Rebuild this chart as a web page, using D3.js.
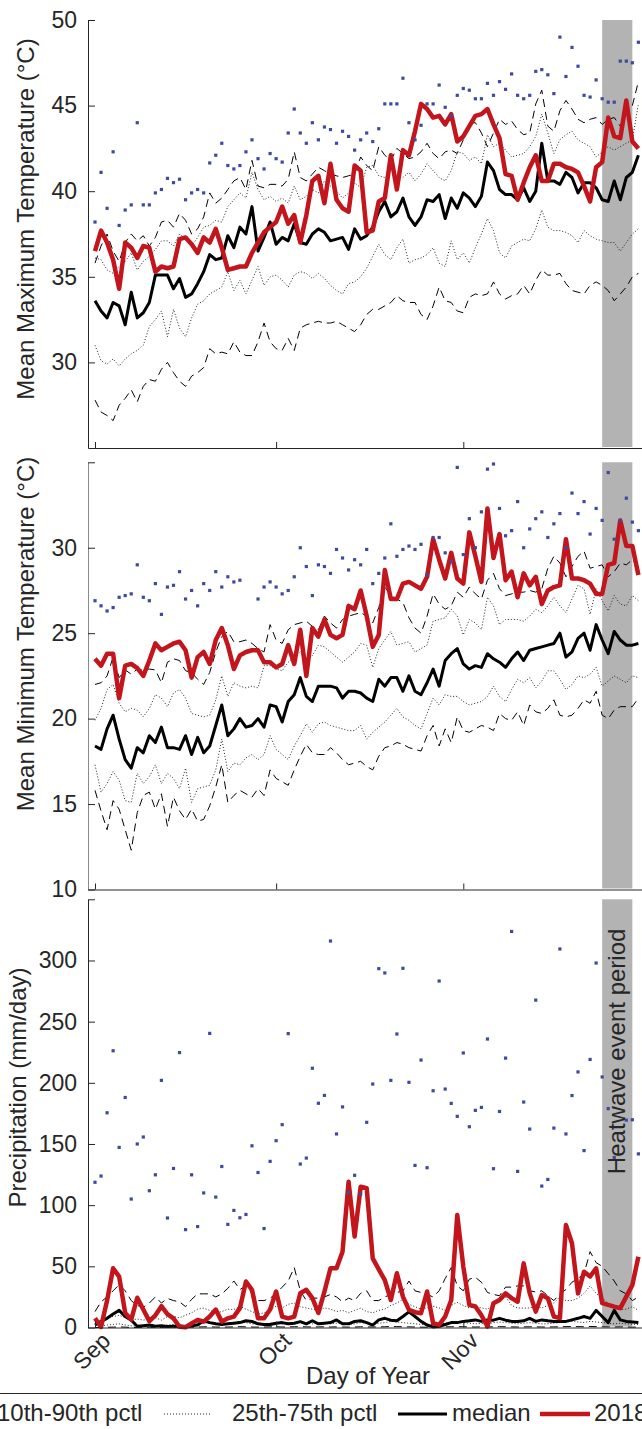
<!DOCTYPE html>
<html><head><meta charset="utf-8">
<script src="https://cdn.jsdelivr.net/npm/d3@7"></script>
<style>
body{margin:0;background:#fff}
svg{display:block}
text{font-family:"Liberation Sans",Arial,Helvetica,sans-serif;fill:#262626}
</style>
</head><body>
<svg id="chart" width="642" height="1429"></svg>
<script>
// ---------------- DATA ----------------
const firstDay = "2018-09-01";
const monthStarts = ["2018-09-01","2018-10-01","2018-11-01"];
const monthLabels = ["Sep","Oct","Nov"];
const heatwave = ["2018-11-24","2018-11-29"];
const heatwaveLabel = "Heatwave event period";
const legendLabels = ["10th-90th pctl","25th-75th pctl","median","2018"];
const xTitle = "Day of Year";

const maxTTicks = [30,35,40,45,50];
const minTTicks = [10,15,20,25,30];
const precTicks = [0,50,100,150,200,250,300];

// Mean maximum temperature
const maxT_2018 = [36.5,37.7,37.0,36.0,34.3,37.0,36.7,36.1,36.8,36.7,
35.3,35.6,35.5,35.6,37.2,37.3,36.9,36.4,37.3,37.0,
37.8,36.7,35.4,35.5,35.6,35.6,36.4,37.0,37.6,37.9,
38.2,39.1,38.1,38.6,37.0,38.6,40.6,40.9,39.3,41.6,
39.5,39.0,38.8,41.5,41.2,37.6,37.7,39.4,39.6,42.1,
40.1,42.4,42.1,43.5,45.1,44.8,44.3,44.4,43.9,44.5,
42.9,43.2,43.8,44.4,44.5,44.8,43.9,43.1,41.0,40.9,
39.5,40.5,41.4,42.1,40.6,40.6,41.6,41.6,41.4,41.3,
41.1,40.3,39.4,41.4,41.7,44.3,43.2,43.1,45.3,42.9,
42.5];
const maxT_med = [33.6,33.0,32.6,33.5,33.3,32.2,34.1,32.6,32.9,33.5,
35.1,35.1,35.1,34.3,34.9,33.8,34.0,34.6,35.3,36.3,
36.0,36.1,37.4,36.7,37.9,37.5,39.1,36.5,37.3,38.2,
36.9,37.3,37.1,38.1,37.0,36.9,37.5,37.8,37.6,37.1,
37.2,37.3,36.6,37.8,37.2,37.4,37.9,38.8,39.4,38.5,
38.8,39.6,38.5,38.0,38.5,39.5,39.4,39.8,38.4,39.6,
39.0,39.9,39.6,39.1,39.7,41.7,41.2,40.1,39.8,39.8,
39.5,40.2,39.4,40.0,42.8,40.6,40.6,40.4,41.1,40.8,
39.9,40.5,40.5,40.2,39.5,39.4,40.6,39.5,40.8,41.1,
42.1];
const maxT_p90 = [35.8,36.8,37.5,36.5,35.9,37.0,37.5,37.1,37.4,36.8,
37.3,38.2,38.3,37.9,38.7,38.3,37.5,37.8,38.5,39.9,
39.3,39.6,40.1,40.6,40.8,40.1,41.8,40.3,40.2,40.4,
40.4,40.3,40.7,42.3,40.8,40.6,41.0,41.4,41.2,41.0,
40.9,40.8,40.9,41.0,42.0,41.5,41.2,42.6,42.1,41.8,
42.5,42.2,41.9,42.0,42.3,42.8,42.2,41.9,42.3,42.4,
42.2,43.0,44.0,44.0,43.4,42.6,43.4,44.2,43.9,44.1,
43.6,43.3,43.4,45.1,45.9,43.8,43.5,44.7,45.3,44.8,
44.2,44.0,44.2,44.3,43.9,44.2,44.3,43.8,44.6,45.0,
46.4];
const maxT_p75 = [36.1,36.0,35.4,35.2,35.6,35.9,36.4,35.4,35.9,36.2,
36.6,37.1,37.1,36.8,37.5,37.2,36.8,37.3,37.9,38.0,
38.3,38.2,39.1,39.5,39.9,39.6,41.1,40.1,39.5,39.7,
39.4,39.6,39.3,40.3,39.5,39.7,40.1,39.9,40.6,40.3,
40.0,39.6,39.9,40.5,40.2,41.4,41.5,40.9,40.8,41.2,
41.0,40.8,41.1,40.6,41.0,41.6,41.2,40.8,40.6,41.2,
42.3,42.2,41.8,42.0,41.6,43.3,42.6,42.8,42.4,42.0,
42.1,42.2,42.6,43.2,44.5,43.4,42.2,43.0,43.3,43.5,
43.0,42.8,42.6,42.0,42.3,42.6,42.4,42.6,42.8,43.0,
45.1];
const maxT_p25 = [31.0,30.1,29.9,30.2,29.8,30.2,30.5,30.7,31.0,32.1,
32.5,33.0,31.5,33.1,32.0,31.5,32.6,33.4,33.6,34.0,
34.2,34.4,35.3,34.2,34.8,34.0,34.8,35.6,34.5,35.0,
35.1,34.8,34.4,35.1,35.3,35.2,34.9,35.2,34.9,34.5,
34.2,34.0,34.6,34.7,35.0,35.5,36.2,36.9,36.3,36.0,
36.7,37.2,35.8,36.0,36.1,36.3,36.7,35.8,35.6,37.1,
36.0,36.4,35.8,36.7,37.5,38.4,37.7,36.4,36.1,36.8,
37.0,37.2,37.1,37.8,38.9,37.9,37.7,37.7,37.6,37.4,
37.0,37.7,37.4,37.2,37.1,37.0,37.0,36.5,37.0,37.5,
37.8];
const maxT_p10 = [27.8,27.1,26.9,26.6,27.5,27.9,28.4,27.7,28.6,29.0,
28.9,29.6,30.0,29.4,28.9,28.6,29.2,29.4,29.7,30.8,
30.5,30.6,30.5,31.2,30.6,30.4,30.4,31.2,32.3,31.2,
30.8,30.7,31.4,30.7,32.0,32.2,32.3,32.4,32.3,32.3,
32.4,32.2,32.0,31.8,32.2,32.8,33.1,33.1,33.3,33.5,
33.9,33.6,33.5,33.5,32.8,32.5,33.3,34.4,33.6,33.5,
33.0,32.9,33.8,34.0,33.9,34.0,34.7,34.0,33.7,33.9,
34.0,34.5,34.0,34.8,35.4,35.1,35.1,35.2,34.6,34.2,
34.1,34.0,34.5,34.7,34.5,34.2,33.6,34.0,34.4,35.0,
35.2];
const maxT_max = [38.2,41.1,39.0,42.3,38.0,38.9,39.2,44.0,39.2,39.2,
39.9,40.1,40.75,40.5,40.7,39.5,39.9,40.1,39.9,41.65,
42.1,42.8,41.5,41.3,41.5,42.3,43.0,41.9,41.3,42.2,
41.9,41.7,43.4,44.8,43.4,42.8,44.0,43.0,43.75,43.6,
42.8,43.5,43.2,42.4,43.0,43.4,42.9,43.65,45.1,45.1,
45.1,46.6,44.0,43.0,43.85,45.1,45.1,46.2,44.9,44.4,
45.6,46.0,45.9,45.4,45.4,46.3,45.6,46.4,45.95,46.85,
45.6,45.4,45.6,47.0,47.1,46.8,45.7,49.0,46.7,48.4,
47.3,45.6,45.5,46.5,45.4,45.2,45.2,47.6,47.6,47.5,
48.7];

// Mean minimum temperature
const minT_2018 = [23.5,23.1,23.8,23.8,21.2,23.1,23.2,22.95,22.5,23.4,
24.4,24.0,24.2,24.4,24.5,24.0,22.4,23.6,23.9,23.2,
24.6,25.3,24.3,22.9,23.7,23.9,24.0,24.0,23.3,23.3,
23.0,23.2,24.3,23.2,25.2,22.5,25.3,24.8,25.8,24.9,
24.7,24.9,26.6,26.4,27.5,26.0,24.2,24.9,28.7,27.0,
27.0,27.9,28.0,27.8,27.6,28.3,30.5,29.3,28.2,29.7,
28.2,27.9,30.9,29.5,28.0,32.3,29.4,30.8,28.1,28.6,
27.1,28.5,27.8,28.3,26.7,27.5,27.7,27.8,30.5,28.2,
28.2,28.1,27.9,27.3,27.3,29.0,29.1,31.6,30.1,30.1,
28.4];
const minT_med = [18.4,18.2,19.4,20.2,18.8,17.6,17.1,18.3,18.0,19.0,
18.6,19.5,18.3,18.3,18.2,19.0,17.9,18.9,18.0,18.4,
19.6,20.8,19.0,19.4,20.0,19.5,19.6,20.0,19.5,20.8,
20.7,19.8,21.0,21.4,22.4,21.3,21.0,21.9,21.9,21.9,
21.8,21.2,21.6,21.6,21.5,21.2,21.0,22.3,21.9,22.4,
22.4,21.6,22.5,21.6,21.4,22.1,22.9,21.9,23.4,23.8,
24.1,23.2,22.9,23.1,23.0,23.8,23.5,23.3,23.0,23.5,
23.9,23.4,24.0,24.1,24.2,24.3,24.4,25.0,23.6,23.9,
24.7,25.0,24.0,25.5,24.6,23.8,25.1,24.6,24.3,24.3,
24.4];
const minT_p90 = [22.0,22.1,22.5,23.6,22.4,22.85,22.6,22.9,22.85,22.9,
22.85,22.1,23.3,23.5,23.4,22.8,22.7,22.3,22.0,22.7,
23.9,24.8,25.1,24.5,24.5,24.6,24.4,24.1,23.9,25.5,
24.6,24.4,25.2,25.5,25.6,25.7,25.4,25.2,26.0,25.6,
25.3,25.8,26.0,26.1,26.2,26.0,25.6,26.5,27.7,27.2,
27.0,26.8,25.9,25.3,25.0,26.0,27.3,26.7,26.4,26.6,
27.4,27.1,27.7,27.3,27.0,28.1,28.5,27.6,27.2,27.3,
27.4,27.4,27.5,27.4,27.6,28.8,29.5,29.1,28.3,28.9,
29.5,29.8,28.8,28.9,29.0,28.3,28.6,29.1,29.0,29.3,
28.9];
const minT_p75 = [19.9,20.6,21.7,22.0,20.9,20.4,20.6,20.5,20.1,20.6,
21.4,21.2,20.7,21.5,21.7,21.2,20.3,20.2,20.1,20.2,
21.1,22.5,21.3,22.1,21.9,21.8,21.9,21.8,23.1,23.1,
22.9,22.8,23.3,23.6,23.9,23.3,23.7,24.3,24.2,23.9,
23.6,23.3,23.6,23.9,24.4,24.3,23.0,24.1,24.6,25.1,
24.3,24.4,24.5,23.9,24.1,24.3,25.7,25.8,25.9,26.4,
26.0,24.9,25.8,25.6,25.2,27.1,26.6,25.5,25.8,25.8,
25.8,25.7,26.0,26.4,26.2,26.6,27.1,26.6,26.2,27.0,
27.8,27.6,26.1,27.6,26.9,26.3,27.2,26.7,26.6,27.2,
26.9];
const minT_p25 = [17.3,15.7,16.2,16.9,16.4,15.2,15.1,16.8,16.2,16.6,
17.3,16.2,16.8,16.5,15.9,17.1,15.1,15.9,16.0,16.1,
17.0,18.8,16.9,17.4,17.3,17.7,17.9,17.6,17.9,19.0,
18.2,17.9,17.6,18.4,19.0,19.7,19.2,19.7,19.8,19.6,
19.5,19.4,19.3,19.3,19.6,18.8,19.2,19.5,19.8,20.2,
20.6,20.1,19.9,19.6,19.4,20.3,21.2,20.8,21.4,21.3,
21.3,21.0,20.8,20.9,21.0,21.3,21.9,21.3,21.0,21.7,
22.3,22.1,22.4,21.8,22.2,22.8,22.8,22.3,21.7,22.0,
22.5,22.4,22.6,23.0,21.9,22.2,22.5,22.3,22.1,22.5,
22.4];
const minT_p10 = [15.8,14.6,13.5,15.2,14.7,13.5,12.3,14.5,15.5,15.7,
14.7,15.6,13.7,15.4,14.6,14.1,14.7,14.0,14.1,14.9,
16.0,17.3,15.1,15.5,15.8,15.6,15.4,15.9,15.5,17.0,
16.5,16.3,16.1,17.0,17.8,18.5,18.0,17.9,17.9,18.3,
18.0,17.6,17.3,17.4,17.5,17.2,17.0,17.8,18.3,18.4,
18.6,18.5,18.3,18.2,18.1,19.0,19.6,18.4,19.4,18.6,
20.1,19.3,19.2,19.4,19.6,19.5,19.3,20.3,20.0,19.9,
20.4,19.6,20.8,20.4,20.3,20.6,21.1,20.2,20.1,20.2,
20.6,21.1,20.9,21.6,20.2,20.0,20.5,20.7,20.7,20.7,
21.2];
const minT_max = [26.9,26.6,26.3,26.5,27.1,27.2,27.3,29.0,27.1,26.9,
27.9,26.1,27.7,27.8,28.6,27.0,27.5,26.6,27.9,27.5,
28.6,27.7,28.3,28.0,28.1,null,null,27.0,27.7,28.0,
27.7,27.3,27.5,28.3,30.0,28.9,27.2,29.0,28.9,28.5,
29.9,29.4,28.7,29.3,29.0,29.9,27.9,28.5,29.4,31.4,
29.5,29.9,30.1,29.9,30.2,28.4,30.6,30.6,29.7,29.2,
34.7,29.6,31.7,30.0,32.1,34.6,34.9,32.3,30.7,31.0,
32.7,30.0,31.1,31.7,32.1,30.6,31.4,32.0,30.0,33.2,
32.0,32.7,30.8,32.3,31.6,34.4,30.5,31.6,32.9,31.5,
31.0];

// Precipitation
const prec_2018 = [7.5,0.5,22,48.4,41.6,11.9,6.5,24.3,14.7,5.2,
10,17.4,11,7.5,0.6,0.2,3.4,6.2,4.8,9,
14.7,4.8,7.5,8.9,15.8,37.6,30.8,7.5,7.5,14.7,
29.4,8.9,7.5,8.9,28.0,30.8,24.0,11.9,29.4,48.4,
48.4,62,119.2,74.3,115,113.8,56.5,47.5,38.8,22.5,
44.3,25.2,14.4,12.5,11.7,29.4,3.5,2.2,9.0,22.5,
92.0,49.8,18.5,17.2,10,0.8,19.9,22.5,27.9,24,
21.1,52.4,27.9,13.0,26.6,24.0,9.0,7.6,83.8,68.8,
27.9,45.6,41.7,48.4,19.9,18.5,17.0,15.8,25.2,34.8,
57.9];
const prec_med = [2,5,7.5,11,14,9,6,1,1.5,2,
1,1.5,0.8,1,1.2,0.8,1.5,2,5.5,4,
3,2.5,3,3.5,4,5.5,5,3,2.5,2.5,
3.5,4,3,3.5,4.8,3,5.5,3,3.5,4,
6.2,3,3,5,5.5,4,2,6.2,7.5,6,
5.5,9,12.8,9,5,2,0.5,1,2.5,4,
4,5,5.5,6.2,5,6.2,6,7.5,6,5,
5,5.5,7.5,5,6.2,5.5,5,5,5,6.2,
7.5,9,7.5,14,9,4,14,6.2,5,4.5,
4];
const prec_p90 = [13,21,25,30,35,30,22,18,16.6,20,
25,20,23.8,22,21,17,23,27.5,27.5,27.5,
25,27.5,32,38,31,34,28,22,22,24,
27.5,33,38,49,30,22,24,24,25,27,
25,21,24,22,28,30,22,22,25,27,
28.6,30,38,30,28.6,27,25,30,40,49,
34,30,39.5,41,37,28.6,27,26,33,33,
34,34,30,29,30,26,22,27.5,31,37,
40,44,62,53,50,44,38,30,27.5,22,
25];
const prec_p75 = [4,6,8,9,10,8,6,7,6,7,
8,6,9,9,8,10,12,15,15.8,14,
12,13,15,14.7,17.4,15,13,11,12,14,
17.4,16,19,20,17,16,15,14,16,15,
13,14,12,14,15.8,13,12,14,15,18,
20,23,19,17,15,16,17.4,16,14,18,
20.5,18,16,17,16,15,18,22,25,18,
16,15.8,16,17.4,16,18,20,25,22,22,
24,28,34,27.9,24,20,16,14.7,15,17,
14];
const prec_p25 = [1,1.5,2,2.5,3,2,1.5,1,1.5,2,
1.5,1,2,2.5,2,1.5,2,3,4,3.5,
3,2.5,3,4,5,4,3,2.5,3,3.5,
4,3,3.5,4,4.5,3.5,3,3.5,4,3,
3.5,3,2.5,3,4,3.5,3,3.5,4,5,
4.5,4,3.5,3,2.5,2,2.5,3,3.5,4,
4.5,4,3.5,3,3.5,3,4,4.5,4,3.5,
3,3.5,4,3.5,3,3,3.5,4,4.5,5,
4.5,4,5,4.5,4,3.5,3,3.5,3,2.5,
2.5];
const prec_p10 = [0,0,0.2,0.3,0.5,0.3,0,0,0,0.2,
0,0,0.2,0.3,0.2,0,0.2,0.4,0.6,0.5,
0.4,0.3,0.4,0.5,0.7,0.5,0.4,0.3,0.4,0.5,
0.6,0.4,0.5,0.6,0.7,0.5,0.4,0.5,0.6,0.4,
0.5,0.4,0.3,0.4,0.6,0.5,0.4,0.5,0.6,0.8,
0.7,0.6,0.5,0.4,0.3,0.2,0.3,0.4,0.5,0.6,
0.7,0.6,0.5,0.4,0.5,0.4,0.6,0.7,0.6,0.5,
0.4,0.5,0.6,0.5,0.4,0.4,0.5,0.6,0.7,0.8,
0.7,0.6,0.8,0.7,0.6,0.5,0.4,0.5,0.4,0.3,
0.3];
const prec_max = [118.7,123.8,175.5,226.2,147.2,188,105,150,155.7,111.8,
124.8,202,89.5,130,224.7,80,124.8,82.5,110,240.4,
106.6,131.6,84.3,95.7,89.7,92.4,148.5,126.7,80.9,135.8,
152.7,165.8,240.2,null,133.6,138.5,211.9,183.3,189.7,315.9,
158.2,180.3,110.2,124.4,109,167.7,199,293.3,289.8,202,
239.9,293.6,200.4,132.5,218.6,130.6,193.5,283.2,194.9,183.2,
172.6,224.4,164.1,177.5,179.9,235.8,129.8,176.6,220.2,323.7,
127.6,184.3,162.2,267.6,115.6,121,163,309.4,158.2,189.6,
208.9,144.6,219.1,297.9,204.8,178.9,139,219.9,169.5,169.8,
141.9];

// ---------------- CHART ----------------
const svg = d3.select("#chart");
const INK = "#262626";
const RED = "#c3151c";
const BLUE = "#3f4a9e";
const parse = d3.utcParse("%Y-%m-%d");
const t0 = parse(firstDay);
const dates = maxT_med.map((_, i) => d3.utcDay.offset(t0, i));
const mDates = monthStarts.map(parse);

const xa = d3.scaleUtc().domain([mDates[0], mDates[2]]).range([95, 463.3]);
const x = d3.scaleUtc().domain([xa.invert(88), xa.invert(660)]).range([88, 660]);

const panels = [
  {top:20, bottom:448, domain:[25,50], ticks:maxTTicks, topTick:false,
   title:"Mean Maximum Temperature (°C)", tx:33.5, ty:219, axisColor:INK,
   s:{p10:maxT_p10,p25:maxT_p25,med:maxT_med,p75:maxT_p75,p90:maxT_p90,y18:maxT_2018,mx:maxT_max}},
  {top:462.3, bottom:889.5, domain:[10,35], ticks:minTTicks, topTick:true,
   title:"Mean Minimum Temperature (°C)", tx:33.5, ty:634, axisColor:"#8a8a8a",
   s:{p10:minT_p10,p25:minT_p25,med:minT_med,p75:minT_p75,p90:minT_p90,y18:minT_2018,mx:minT_max}},
  {top:899.3, bottom:1327.5, domain:[0,350], ticks:precTicks, topTick:true,
   title:"Precipitation (mm/day)", tx:26, ty:1087.5, axisColor:INK, xlabels:true, hwLabel:true,
   s:{p10:prec_p10,p25:prec_p25,med:prec_med,p75:prec_p75,p90:prec_p90,y18:prec_2018,mx:prec_max}}
];

panels.forEach(p => {
  const y = d3.scaleLinear().domain(p.domain).range([p.bottom, p.top]);
  const g = svg.append("g");

  // heatwave shade
  g.append("rect")
    .attr("x", x(parse(heatwave[0])))
    .attr("y", p.top)
    .attr("width", x(parse(heatwave[1])) - x(parse(heatwave[0])))
    .attr("height", p.bottom - p.top - 1)
    .attr("fill", "#b3b3b3");

  const line = d3.line().defined(v => v != null)
    .x((v, i) => x(dates[i])).y(v => y(v));

  const styles = [
    {k:"p10", w:1, dash:"8,5", c:"#000"},
    {k:"p90", w:1, dash:"8,5", c:"#000"},
    {k:"p25", w:1, dash:"1,2", c:"#222"},
    {k:"p75", w:1, dash:"1,2", c:"#222"},
    {k:"med", w:3, dash:null, c:"#000"},
    {k:"y18", w:4.5, dash:null, c:RED}
  ];
  styles.forEach(st => {
    g.append("path").datum(p.s[st.k])
      .attr("d", line)
      .attr("fill", "none")
      .attr("stroke", st.c)
      .attr("stroke-width", st.w)
      .attr("stroke-linejoin", "round")
      .attr("stroke-dasharray", st.dash);
  });

  // maxima dots
  g.append("g").selectAll("rect")
    .data(p.s.mx.map((v, i) => ({v, d: dates[i]})).filter(o => o.v != null))
    .join("rect")
    .attr("x", o => x(o.d) - 1.6).attr("y", o => y(o.v) - 1.6)
    .attr("width", 3.2).attr("height", 3.2)
    .attr("fill", BLUE);

  // y axis
  const ya = g.append("g").attr("transform", "translate(88,0)")
    .call(d3.axisLeft(y).tickValues(p.ticks).tickSize(-7).tickSizeOuter(0).tickPadding(11));
  ya.attr("font-size", 23).attr("font-family", null);
  ya.selectAll("text").attr("fill", INK);
  ya.selectAll(".tick line").attr("stroke", INK);
  ya.select(".domain").attr("stroke", p.axisColor);
  if (p.topTick) {
    g.append("line").attr("x1", 88).attr("x2", 95)
      .attr("y1", p.top + 0.5).attr("y2", p.top + 0.5)
      .attr("stroke", INK).attr("stroke-width", 1);
  }

  // x axis
  const xg = g.append("g").attr("transform", `translate(0,${p.bottom})`)
    .call(d3.axisBottom(x).tickValues(mDates).tickSize(-6).tickSizeOuter(0).tickFormat(""));
  xg.selectAll("line,path").attr("stroke", INK);

  // y title
  g.append("text")
    .attr("transform", `translate(${p.tx},${p.ty}) rotate(-90)`)
    .attr("text-anchor", "middle").attr("font-size", 24)
    .text(p.title);

  if (p.xlabels) {
    mDates.forEach((d, i) => {
      g.append("text")
        .attr("transform", `translate(${x(d) + 11},${p.bottom + 9}) rotate(-45)`)
        .attr("text-anchor", "end").attr("dy", "0.35em")
        .attr("font-size", 23)
        .text(monthLabels[i]);
    });
  }
  if (p.hwLabel) {
    const xm = x(parse(heatwave[1]));
    g.append("text")
      .attr("transform", `translate(${xm - 7.5},${(p.top + p.bottom) / 2 - 62}) rotate(-90)`)
      .attr("text-anchor", "middle").attr("font-size", 24)
      .text(heatwaveLabel);
  }
});

// x title
svg.append("text").attr("x", 368).attr("y", 1384)
  .attr("text-anchor", "middle").attr("font-size", 24).text(xTitle);

// legend (the reference figure is cropped at both sides, as here)
const lg = svg.append("g");
lg.append("line").attr("x1", 0).attr("x2", 642).attr("y1", 1393.5).attr("y2", 1393.5)
  .attr("stroke", INK).attr("stroke-width", 1.2);
const ly = 1414, lty = 1421;
const items = [
  {x1:-60, x2:-12, tx:-3, w:1, dash:"8,5", c:"#000"},
  {x1:164, x2:211, tx:232, w:1, dash:"1,2", c:"#222"},
  {x1:398, x2:447, tx:452, w:3, dash:null, c:"#000"},
  {x1:540, x2:590, tx:594, w:4.5, dash:null, c:RED}
];
items.forEach((it, i) => {
  lg.append("line").attr("x1", it.x1).attr("x2", it.x2).attr("y1", ly).attr("y2", ly)
    .attr("stroke", it.c).attr("stroke-width", it.w).attr("stroke-dasharray", it.dash);
  lg.append("text").attr("x", it.tx).attr("y", lty).attr("font-size", 24).text(legendLabels[i]);
});
</script>
</body></html>
